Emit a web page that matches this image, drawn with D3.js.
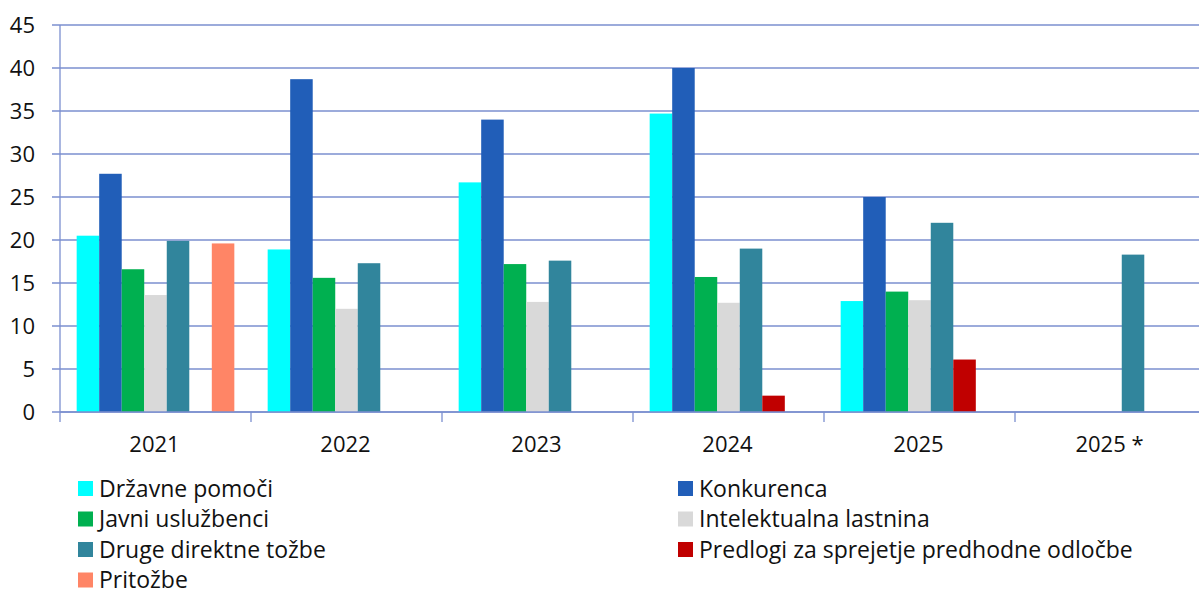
<!DOCTYPE html>
<html><head><meta charset="utf-8">
<script src="https://cdn.jsdelivr.net/npm/d3@7/dist/d3.min.js"></script>
<style>body{margin:0;background:#fff;}svg{display:block;font-family:"Open Sans",sans-serif;}</style>
</head><body><svg id="c" width="1199" height="590"></svg>
<script>
const categories = ["2021","2022","2023","2024","2025","2025 *"];
const seriesNames = ["Državne pomoči","Konkurenca","Javni uslužbenci","Intelektualna lastnina","Druge direktne tožbe","Predlogi za sprejetje predhodne odločbe","Pritožbe"];
const seriesColors = ["#00ffff","#215eb8","#00b050","#d9d9d9","#31859c","#c00000","#ff8566"];
const drzavnePomoci = [20.5,18.9,26.7,34.7,12.9,null];
const konkurenca = [27.7,38.7,34.0,40.0,25.0,null];
const javniUsluzbenci = [16.6,15.6,17.2,15.7,14.0,null];
const intelektualna = [13.6,12.0,12.8,12.7,13.0,null];
const drugeTozbe = [19.9,17.3,17.6,19.0,22.0,18.3];
const predlogi = [null,null,null,1.9,6.1,null];
const pritozbe = [19.6,null,null,null,null,null];
const seriesValues = [drzavnePomoci,konkurenca,javniUsluzbenci,intelektualna,drugeTozbe,predlogi,pritozbe];
const yTicks = [0,5,10,15,20,25,30,35,40,45];

const svg = d3.select("#c");
const L = 60, R = 1206, T = 25, B = 412;
const x0 = d3.scaleBand().domain(categories).range([L, R]).paddingInner(0).paddingOuter(0);
const x1 = d3.scaleBand().domain(d3.range(seriesNames.length)).range([0, x0.bandwidth()]).paddingOuter(0.74).paddingInner(0);
const y = d3.scaleLinear().domain([0,45]).range([B, T]);
const gridColor = "#7b8fcf";

// gridlines
svg.append("g").selectAll("line").data(yTicks).join("line")
  .attr("x1", L-8).attr("x2", 1199).attr("y1", d=>y(d)).attr("y2", d=>y(d))
  .attr("stroke", gridColor).attr("stroke-width", 1.3);

// bars
const g = svg.append("g");
seriesValues.forEach((vals, si) => {
  g.selectAll(null).data(categories.map((c,i)=>({c, v: vals[i]})).filter(d=>d.v!=null)).join("rect")
    .attr("x", d => x0(d.c) + x1(si))
    .attr("width", x1.bandwidth())
    .attr("y", d => y(d.v))
    .attr("height", d => y(0) - y(d.v))
    .attr("fill", seriesColors[si]);
});

// y axis line
svg.append("line").attr("x1", L).attr("x2", L).attr("y1", T).attr("y2", B+10)
  .attr("stroke", gridColor).attr("stroke-width", 1.3);
// baseline
svg.append("line").attr("x1", L).attr("x2", 1199).attr("y1", B).attr("y2", B)
  .attr("stroke", gridColor).attr("stroke-width", 1.3);
// category tick marks
svg.append("g").selectAll("line").data(categories.slice(1)).join("line")
  .attr("x1", d=>x0(d)).attr("x2", d=>x0(d)).attr("y1", B).attr("y2", B+10)
  .attr("stroke", gridColor).attr("stroke-width", 1.3);

// y labels
svg.append("g").selectAll("text").data(yTicks).join("text")
  .attr("x", 35).attr("y", d=>y(d)).attr("dy","0.36em").attr("text-anchor","end")
  .attr("font-size", 22).attr("fill","#111").text(d=>d);

// x labels
svg.append("g").selectAll("text").data(categories).join("text")
  .attr("x", d=>x0(d)+x0.bandwidth()/2 - 1).attr("y", 452)
  .attr("text-anchor","middle").attr("font-size", 22).attr("fill","#111").text(d=>d);

// legend
const legendPos = seriesNames.map((n,i)=>({n, i, col: i%2, row: Math.floor(i/2)}));
const lg = svg.append("g").selectAll("g").data(legendPos).join("g")
  .attr("transform", d=>`translate(${d.col? 678 : 78},${488.5 + d.row*30.5})`);
lg.append("rect").attr("x",0).attr("y",-7.5).attr("width",15).attr("height",15).attr("fill", d=>seriesColors[d.i]);
lg.append("text").attr("x",21).attr("y",0).attr("dy","0.36em").attr("font-size",23).attr("fill","#111").text(d=>d.n);
</script></body></html>
